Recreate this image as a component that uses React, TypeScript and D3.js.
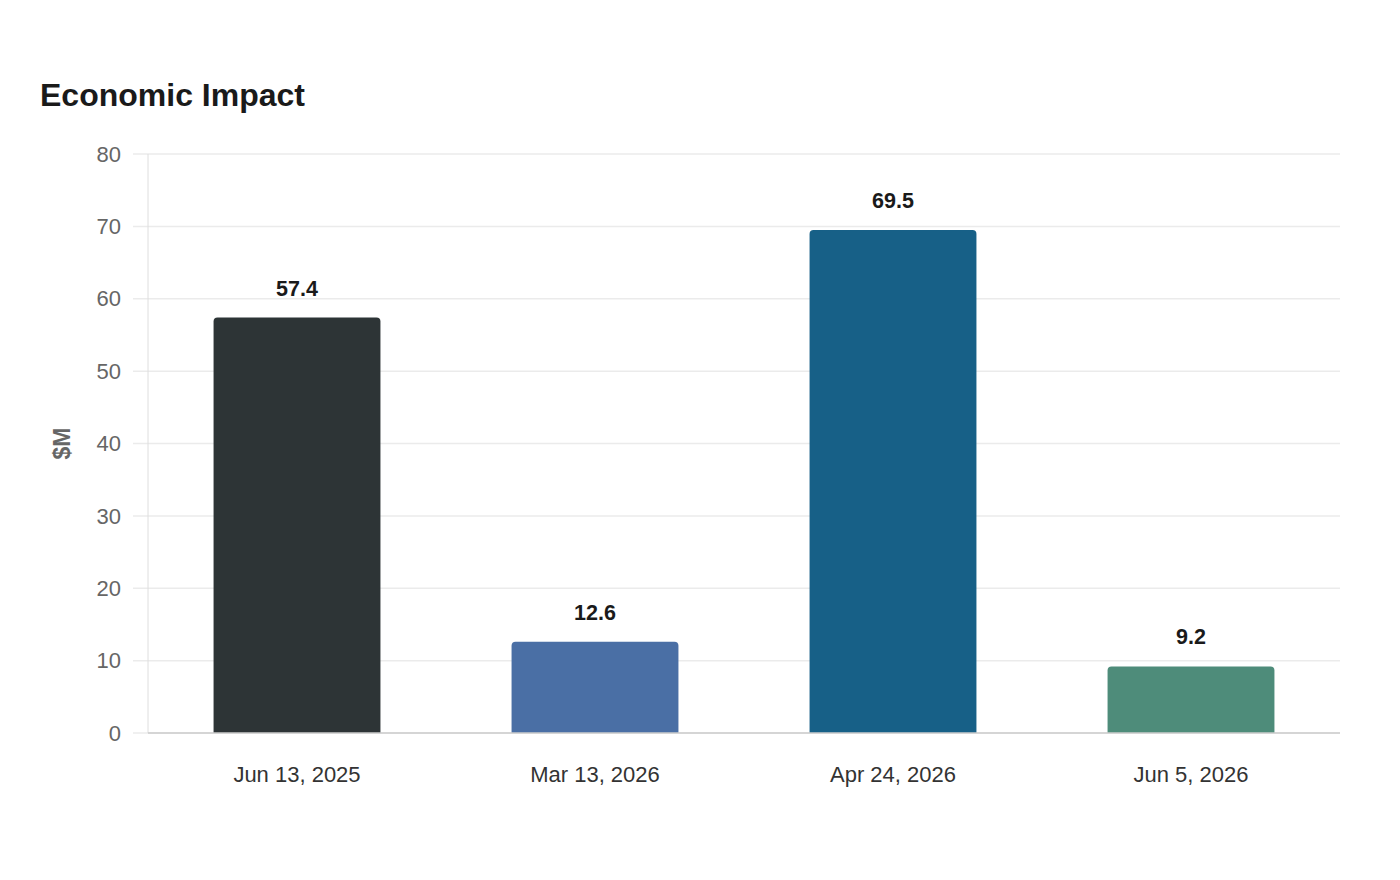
import { useEffect, useRef } from "react";
import * as d3 from "d3";

const categories = ["Jun 13, 2025", "Mar 13, 2026", "Apr 24, 2026", "Jun 5, 2026"];
const values = [57.4, 12.6, 69.5, 9.2];
const barColors = ["#2d3436", "#4a6fa5", "#176087", "#4e8c7a"];
const yTicks = [0, 10, 20, 30, 40, 50, 60, 70, 80];

const W = 1400;
const H = 880;

export default function App() {
  const svgRef = useRef<SVGSVGElement | null>(null);

  useEffect(() => {
    const svg = d3.select(svgRef.current);
    svg.selectAll("*").remove();

    const margin = { top: 154, right: 60, bottom: 147, left: 148 };
    const width = W - margin.left - margin.right;
    const height = H - margin.top - margin.bottom;
    const font = "'Liberation Sans', Arial, sans-serif";

    svg
      .append("text")
      .attr("x", 40)
      .attr("y", 106)
      .attr("font-family", font)
      .attr("font-size", 32)
      .attr("font-weight", 700)
      .attr("fill", "#1a1a1a")
      .text("Economic Impact");

    const g = svg
      .append("g")
      .attr("transform", `translate(${margin.left},${margin.top})`);

    const x = d3
      .scaleBand()
      .domain(categories)
      .range([0, width])
      .paddingInner(0.44)
      .paddingOuter(0.22);
    const y = d3.scaleLinear().domain([0, 80]).range([height, 0]);

    // grid lines, running a little left of the axis as ticks
    g.selectAll(".grid")
      .data(yTicks)
      .enter()
      .append("line")
      .attr("x1", -15)
      .attr("x2", width)
      .attr("y1", (d) => y(d))
      .attr("y2", (d) => y(d))
      .attr("stroke", "#ebebeb")
      .attr("stroke-width", 1.5);

    g.append("line")
      .attr("x1", 0)
      .attr("x2", 0)
      .attr("y1", 0)
      .attr("y2", height)
      .attr("stroke", "#dedede")
      .attr("stroke-width", 1);

    g.selectAll(".ytick")
      .data(yTicks)
      .enter()
      .append("text")
      .attr("x", -27)
      .attr("y", (d) => y(d))
      .attr("dy", "0.35em")
      .attr("text-anchor", "end")
      .attr("font-family", font)
      .attr("font-size", 22)
      .attr("fill", "#666")
      .text((d) => d);

    svg
      .append("text")
      .attr("transform", `translate(70,${margin.top + height / 2}) rotate(-90)`)
      .attr("text-anchor", "middle")
      .attr("font-family", font)
      .attr("font-size", 23)
      .attr("font-weight", 700)
      .attr("fill", "#666")
      .text("$M");

    const r = 4;
    const bars = categories.map((c, i) => ({ c, v: values[i], color: barColors[i] }));

    g.selectAll(".bar")
      .data(bars)
      .enter()
      .append("path")
      .attr("fill", (d) => d.color)
      .attr("d", (d) => {
        const x0 = x(d.c)!;
        const bw = x.bandwidth();
        const yt = y(d.v);
        const yb = y(0);
        return `M${x0},${yb} V${yt + r} Q${x0},${yt} ${x0 + r},${yt} H${x0 + bw - r} Q${x0 + bw},${yt} ${x0 + bw},${yt + r} V${yb} Z`;
      });

    g.append("line")
      .attr("x1", 0)
      .attr("x2", width)
      .attr("y1", height)
      .attr("y2", height)
      .attr("stroke", "#cccccc")
      .attr("stroke-width", 1.5);

    g.selectAll(".val")
      .data(bars)
      .enter()
      .append("text")
      .attr("x", (d) => x(d.c)! + x.bandwidth() / 2)
      .attr("y", (d) => y(d.v) - 22)
      .attr("text-anchor", "middle")
      .attr("font-family", font)
      .attr("font-size", 21.5)
      .attr("font-weight", 700)
      .attr("fill", "#1a1a1a")
      .text((d) => d.v.toFixed(1));

    g.selectAll(".xlab")
      .data(categories)
      .enter()
      .append("text")
      .attr("x", (d) => x(d)! + x.bandwidth() / 2)
      .attr("y", height + 49)
      .attr("text-anchor", "middle")
      .attr("font-family", font)
      .attr("font-size", 22)
      .attr("fill", "#333")
      .text((d) => d);
  }, []);

  return (
    <svg
      ref={svgRef}
      width={W}
      height={H}
      style={{ position: "absolute", left: 0, top: 0, background: "#fff" }}
    />
  );
}
